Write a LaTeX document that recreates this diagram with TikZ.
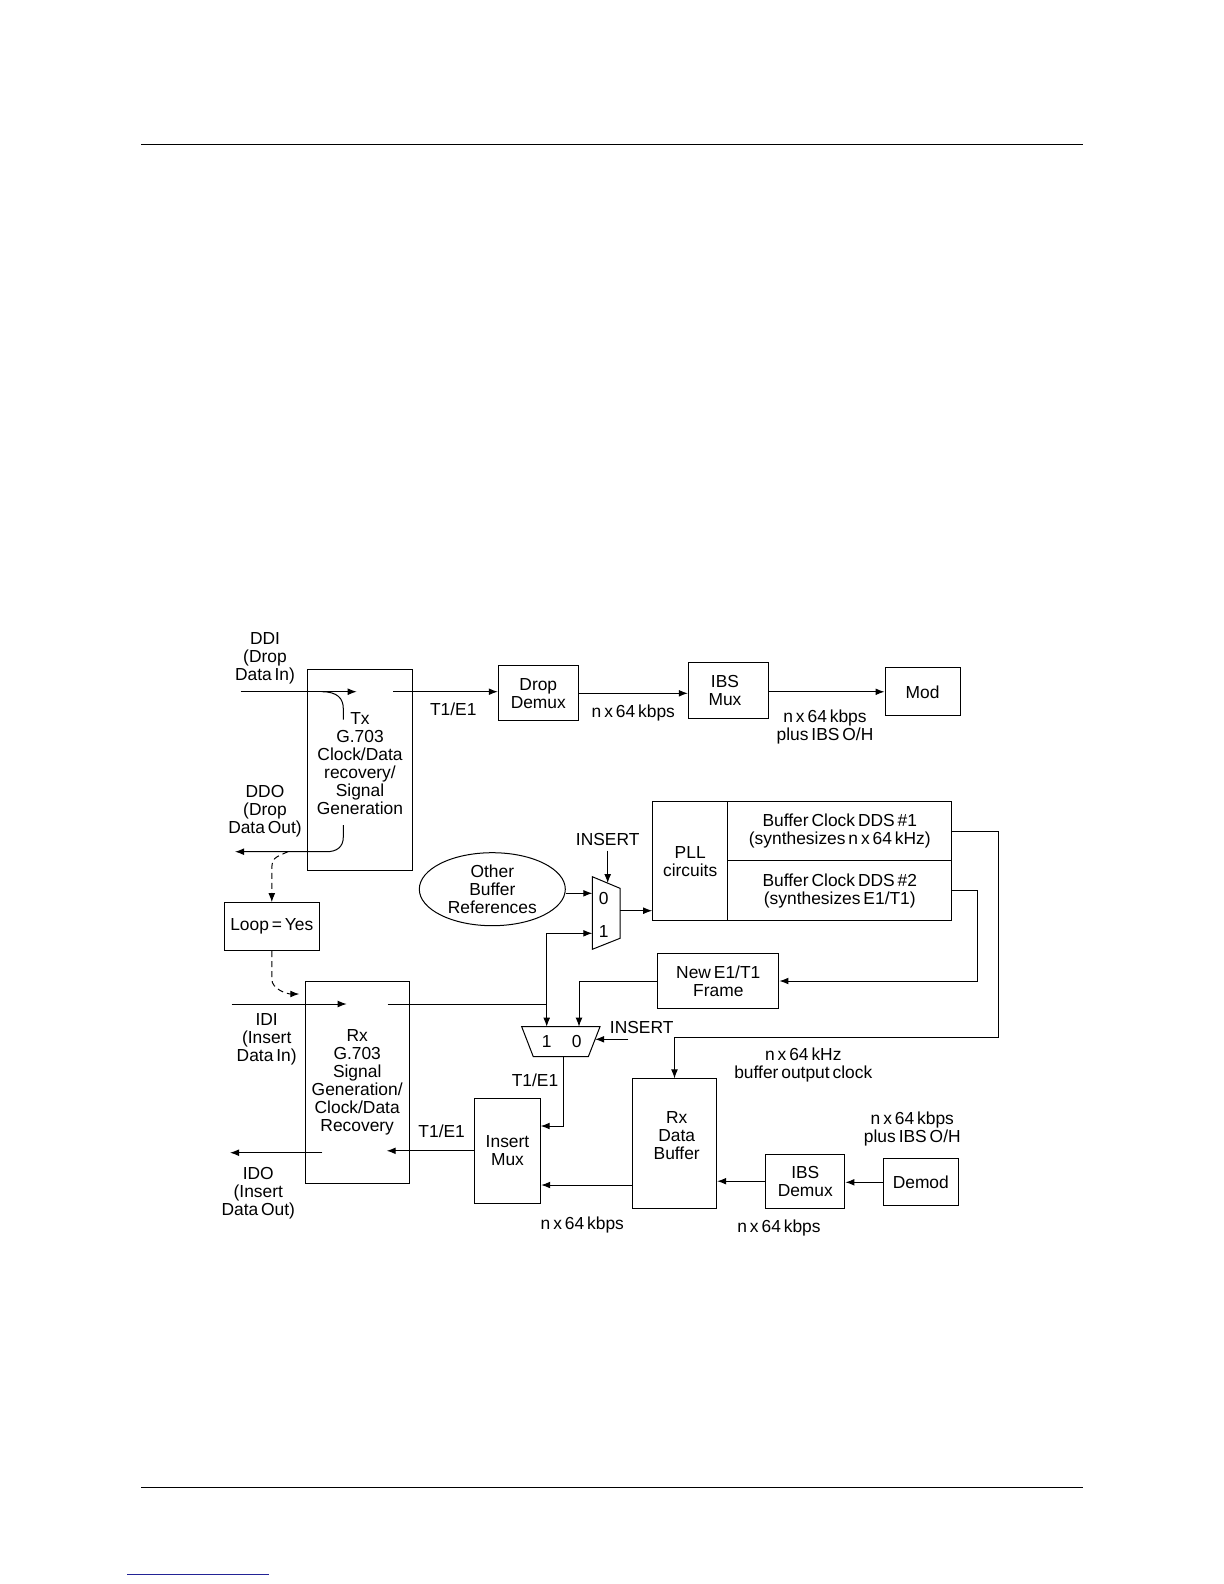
\documentclass[tikz,border=0pt]{standalone}
\usepackage{fontspec}
\setmainfont{Liberation Sans}[WordSpace=0.6]
\usetikzlibrary{
  calc,
  positioning,
  arrows.meta,
  shapes.geometric}
\definecolor{linkblue}{RGB}{35,35,150}

\begin{document}
\begin{tikzpicture}[
  x=0.5pt, y=-0.5pt,
  >={Latex[length=4.5pt,width=3.4pt]},
  line width=0.5pt,
  every node/.style={font=\fontsize{8.7}{9}\selectfont,align=center,inner sep=0pt},
  bx/.style 2 args={draw,minimum width=#1*0.5pt,minimum height=#2*0.5pt}
]%
  \useasboundingbox (0,0) rectangle (1224,1584);
  \draw[line width=0.8pt] (141,144.4) -- (1083,144.4);
  \draw[line width=0.8pt] (141,1487.6) -- (1083,1487.6);
  \draw[linkblue,line width=0.7pt] (127,1574.5) -- (269,1574.5);

  % blocks
  \node[bx={104.6}{201}] (tx) at (360,769.5) {};
  \node (tx text) at (360,764) {Tx\\G.703\\Clock/Data\\recovery/\\Signal\\Generation};
  \node[bx={80}{55.3}] (drop) at (538.3,693.3) {Drop\\Demux};
  \node[bx={80.4}{55.6}] (ibsmux) at (728.5,690.5) {};
  \node (ibsmux text) at (725,690.5) {IBS\\Mux};
  \node[bx={75}{48.3}] (mod) at (922.5,691.8) {Mod};
  \node[bx={75}{119}] (pll) at (690.2,861.2) {PLL\\circuits};
  \node[bx={224.2}{59}] (dds1) at (839.8,831.2) {Buffer Clock DDS \#1\\(synthesizes n x 64 kHz)};
  \node[bx={224.2}{60}] (dds2) at (839.8,890.7) {Buffer Clock DDS \#2\\(synthesizes E1/T1)};
  \node[draw,ellipse,minimum width=146*0.5pt,minimum height=73*0.5pt] (others) at (492.3,889.2) {Other\\Buffer\\References};
  \node[bx={95}{48}] (loop) at (271.8,926.7) {Loop = Yes};
  \node[bx={104.3}{201.6}] (rx) at (357.2,1082.5) {Rx\\G.703\\Signal\\Generation/\\Clock/Data\\Recovery};
  \node[bx={121.3}{55.4}] (newframe) at (718.3,981) {New E1/T1\\Frame};
  \node[bx={66.4}{105}] (insmux) at (507.5,1150.8) {Insert\\Mux};
  \node[bx={84.4}{129.3}] (rxbuf) at (674.5,1143.6) {};
  \node (rxbuf text) at (676.7,1135.5) {Rx\\Data\\Buffer};
  \node[bx={79.3}{54.3}] (ibsdemux) at (805.3,1181.2) {IBS\\Demux};
  \node[bx={75}{47.3}] (demod) at (920.8,1182.3) {Demod};

  % muxes
  \draw (592.3,876.7) -- (620,888.3) -- (620,938.3) -- (592.3,949.3) -- cycle;
  \node (muxA0) at (603.8,898.3) {0};
  \node (muxA1) at (603.8,931.7) {1};
  \coordinate (muxA in0) at (592.3,893.3);
  \coordinate (muxA in1) at (592.3,933.3);
  \coordinate (muxA sel) at (607.7,883.1);
  \coordinate (muxA out) at (620,910.7);
  \draw (521.7,1026.7) -- (600,1026.7) -- (588.3,1056.7) -- (533.3,1056.7) -- cycle;
  \node (muxB1) at (546.7,1041.7) {1};
  \node (muxB0) at (576.7,1041.7) {0};
  \coordinate (muxB in1) at (546.7,1026.7);
  \coordinate (muxB in0) at (579,1026.7);
  \coordinate (muxB sel) at (595.1,1039.3);
  \coordinate (muxB out) at (563.3,1056.7);

  % labels
  \node (ddi) at (265,658.5) {DDI\\(Drop\\Data In)};
  \node (ddo) at (265,811) {DDO\\(Drop\\Data Out)};
  \node (idi) at (266.7,1039) {IDI\\(Insert\\Data In)};
  \node (ido) at (258.3,1193) {IDO\\(Insert\\Data Out)};
  \node (t1a) at (453.3,709.3) {T1/E1};
  \node (t1b) at (535,1080.7) {T1/E1};
  \node (t1c) at (441.7,1131) {T1/E1};
  \node (rate1) at (633.3,712.7) {n x 64 kbps};
  \node (rate2) at (825,727) {n x 64 kbps\\plus IBS O/H};
  \node (insA) at (607.7,840) {INSERT};
  \node (insB) at (641.7,1027.7) {INSERT};
  \node (clk) at (803.3,1064.5) {n x 64 kHz\\buffer output clock};
  \node (rate3) at (582.3,1225.3) {n x 64 kbps};
  \node (rate4) at (779,1227.7) {n x 64 kbps};
  \node (rate5) at (912.3,1129) {n x 64 kbps\\plus IBS O/H};

  % free ends
  \coordinate (ddi in) at (240.7,691.7);
  \coordinate (ddi tip) at (356.7,691.7);
  \coordinate (tx hook) at (321.7,691.7);
  \coordinate (tx out) at (393.3,691.7);
  \coordinate (ddo from) at (343.3,825);
  \coordinate (ddo tip) at (235,851.7);
  \coordinate (ddo dash) at (288,851.7);
  \coordinate (rx dash) at (299.3,994);
  \coordinate (idi in) at (231.7,1004);
  \coordinate (idi tip) at (346.7,1004);
  \coordinate (rx out) at (387.7,1004);
  \coordinate (jn) at (546.7,1004);
  \coordinate (rx in) at (386.7,1152.7);
  \coordinate (ido from) at (322.3,1152.7);
  \coordinate (ido tip) at (230,1152.7);
  \coordinate (clk corner) at (998,1037.3);
  \coordinate (clk drop) at (674.5,1037.3);
  \coordinate (fr corner) at (977.3,981);
  \coordinate (insB from) at (628.3,1039.3);
  \coordinate (insmux in) at (540.7,1126);
  \coordinate (buf out) at (632.3,1185);

  % connectors
  \draw[->] (ddi in) -- (ddi tip);
  \draw (tx hook) .. controls +(16,0) and +(0,-10) .. ++(21.6,17) -- ++(0,11);
  \draw[->] (tx out) -- (tx out -| drop.west);
  \draw[->] (drop.east) -- (drop.east -| ibsmux.west);
  \draw[->] (ibsmux.east |- mod.west) -- (mod.west);
  \draw[->] (ddo from) -- ++(0,12) .. controls +(0,10) and +(10,0) .. (326.7,851.7) -- (ddo tip);
  \draw[densely dashed,->] (ddo dash) .. controls +(-14,6) and +(0,-12) .. ($(loop.north)+(0,-32)$) -- (loop.north);
  \draw[densely dashed,->] (loop.south) -- ++(0,28) .. controls +(0,10) and +(-12,0) .. (rx dash);
  \draw[->] (idi in) -- (idi tip);
  \draw (rx out) -- (jn);
  \draw[->] (jn) |- (muxA in1);
  \draw[->] (jn) -- (muxB in1);
  \draw[->] (others.east |- muxA in0) -- (muxA in0);
  \draw[->] (insA.south) ++(0,4) -- (muxA sel);
  \draw[->] (muxA out) -- (muxA out -| pll.west);
  \draw[->] (dds1.east) -| (clk corner) -- (clk drop) -- (rxbuf.north);
  \draw[->] (dds2.east) -| (fr corner) -- (newframe.east);
  \draw[->] (newframe.west) -| (muxB in0);
  \draw[->] (insB from) -- (muxB sel);
  \draw[->] (muxB out) |- (insmux in);
  \draw[->] (insmux.west) -- (insmux.west -| rx in);
  \draw[->] (ido from) -- (ido tip);
  \draw[->] (buf out) -- (buf out -| insmux.east);
  \draw[->] (ibsdemux.west) -- (ibsdemux.west -| rxbuf.east);
  \draw[->] (demod.west) -- (demod.west -| ibsdemux.east);
\end{tikzpicture}
\end{document}
